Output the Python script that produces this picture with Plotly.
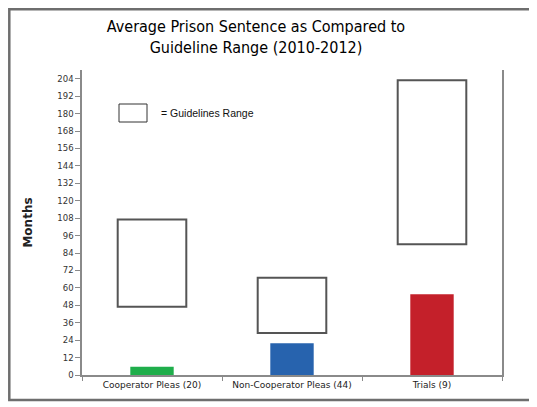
import plotly.graph_objects as go

# Data (months)
categories = ['Cooperator Pleas (20)', 'Non-Cooperator Pleas (44)', 'Trials (9)']
avg_sentence = [5.7, 21.8, 55.6]
guideline_low = [47, 29, 90]
guideline_high = [107, 67, 203]
bar_colors = ['#1fae4b', '#2763ae', '#c4202a']
y_ticks = list(range(0, 205, 12))

# page body has an 8px margin, so the figure is sized/shifted to fit the window
W, H = 529, 399
L, T = 74, 62
PW, PH = 420, 305

fig = go.Figure()

# Guideline range boxes
fig.add_trace(go.Bar(
    x=categories,
    y=[h - l for h, l in zip(guideline_high, guideline_low)],
    base=guideline_low,
    width=0.49,
    marker=dict(color='white', line=dict(color='#555555', width=2)),
    showlegend=False,
    hoverinfo='skip',
))

# Average sentence bars
fig.add_trace(go.Bar(
    x=categories,
    y=avg_sentence,
    width=0.31,
    marker=dict(color=bar_colors, line=dict(width=0)),
    showlegend=False,
))

def px(x):
    return (x - L) / PW

def py(y):
    return (T + PH - y) / PH

# outer frame + legend key box (figure pixel coords)
frame = dict(type='rect', xref='paper', yref='paper',
             x0=px(1.3), x1=px(526), y0=py(392), y1=py(1.3),
             line=dict(color='#6e6e6e', width=2.5), layer='below')
key_box = dict(type='rect', xref='paper', yref='paper',
               x0=px(111), x1=px(139), y0=py(114), y1=py(96),
               line=dict(color='#333333', width=1))

fig.update_layout(
    barmode='overlay',
    width=W, height=H,
    margin=dict(l=L, r=W - L - PW, t=T, b=H - T - PH, autoexpand=False),
    paper_bgcolor='white', plot_bgcolor='white',
    title=dict(
        text='Average Prison Sentence as Compared to<br>Guideline Range (2010-2012)',
        x=248 / W, xanchor='center', y=0.94, yanchor='top',
        font=dict(family='DejaVu Sans Condensed, Liberation Sans Narrow, Arial Narrow, sans-serif',
                  size=16, color='#000000'),
    ),
    font=dict(family='DejaVu Sans, Verdana, sans-serif', size=8, color='#333333'),
    xaxis=dict(
        automargin=False,
        showline=True, linecolor='#8a8a8a', linewidth=1.5,
        ticks='outside', tickson='boundaries', ticklen=4, tickcolor='#8a8a8a',
        showgrid=False, tickfont=dict(size=9, color='#222222'),
    ),
    yaxis=dict(
        automargin=False,
        range=[0, 210], tickvals=y_ticks,
        showline=True, linecolor='#8a8a8a', linewidth=1.5, mirror=True,
        ticks='outside', ticklen=5, tickcolor='#8a8a8a',
        showgrid=False, zeroline=False,
        tickfont=dict(size=8.5, color='#333333'),
        title=dict(text='<b>Months</b>', font=dict(size=12, color='#222222'), standoff=22),
    ),
    shapes=[frame, key_box],
    annotations=[dict(
        text='= Guidelines Range', xref='paper', yref='paper',
        x=px(151), y=py(105), xanchor='left', yanchor='middle',
        showarrow=False, font=dict(family='Liberation Sans, Arial, sans-serif', size=10.5, color='#111111'),
    )],
)

fig.write_html("out.html")
